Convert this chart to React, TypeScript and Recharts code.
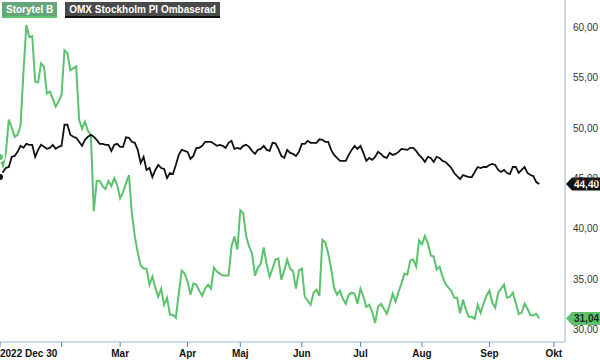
import React from "react";
import { LineChart, Line, XAxis, YAxis, ReferenceDot } from "recharts";

const storytel: number[] = [
  47.1, 46.2, 47.5, 50.8, 50.0, 49.1, 49.3, 50.2, 55.5, 60.2,
  59.0, 59.1, 54.6, 54.5, 56.4, 56.1, 53.4, 53.6, 52.9, 52.1,
  52.6, 53.3, 57.7, 57.4, 55.7, 55.9, 56.1, 50.8, 49.9, 50.6,
  49.7, 49.3, 41.7, 44.7, 44.7, 44.2, 43.9, 44.7, 44.2, 45.0,
  44.3, 43.0, 43.6, 44.5, 45.3, 41.5, 39.2, 37.6, 36.3, 36.0,
  36.0, 34.4, 35.2, 34.1, 33.2, 34.0, 32.4, 33.1, 31.4, 31.4,
  31.1, 33.5, 35.8, 35.5, 34.7, 33.4, 34.5, 34.4, 33.8, 33.3,
  34.0, 34.4, 34.0, 36.1, 35.7, 35.5, 35.3, 35.3, 35.3, 38.2,
  39.2, 37.9, 41.8, 41.5, 39.2, 38.2, 37.5, 35.3, 36.1, 36.5,
  38.1, 36.4, 35.2, 36.0, 36.9, 37.0, 34.9, 35.8, 36.9, 36.0,
  35.7, 34.0, 35.8, 36.0, 33.2, 32.8, 32.4, 33.6, 33.9, 33.3,
  38.85, 38.6, 37.5, 36.0, 34.1, 33.4, 33.8, 33.0, 32.5, 33.4,
  33.6, 33.5, 32.5, 34.0, 33.2, 32.2, 32.4, 31.7, 30.6, 32.2,
  32.5, 32.0, 31.5, 32.4, 33.5, 32.7, 33.7, 34.5, 35.5, 35.4,
  36.8, 36.9, 36.2, 38.8, 38.4, 39.25, 38.5, 37.3, 37.2, 35.9,
  36.2, 35.2, 34.5, 34.1, 33.8, 33.1, 33.1, 31.55, 32.9, 31.9,
  31.2, 31.2, 31.0, 32.4, 31.6, 32.5, 33.3, 33.8, 32.6, 32.1,
  33.6, 34.0, 34.4, 33.1, 33.2, 33.6, 32.6, 31.5, 31.6, 32.5,
  32.0, 31.35, 31.35, 31.5, 31.04,
];

const omx: number[] = [
  45.1, 45.6, 46.0, 46.1, 47.1, 47.2, 47.6, 48.2, 48.0, 48.4,
  48.3, 48.3, 47.1, 47.8, 48.3, 48.1, 47.9, 48.0, 48.3, 47.9,
  48.1, 48.2, 50.3, 50.3, 49.3, 49.1, 49.0, 48.6, 48.2, 48.8,
  49.1, 49.3, 49.1, 48.8, 48.4, 48.4, 48.3, 48.3, 47.7, 48.3,
  48.4, 48.1, 48.1, 49.05, 49.0, 48.6, 48.5, 47.8, 46.5, 47.1,
  45.8, 46.0, 45.1, 45.8, 46.3, 46.0, 45.9, 45.0, 45.5, 45.4,
  46.3, 47.3, 47.8, 47.7, 47.6, 46.9, 47.2, 48.0, 48.0, 48.2,
  48.6, 48.6, 48.6, 48.4, 48.2, 48.3, 48.2, 48.0, 48.5, 48.7,
  47.9, 48.0, 47.9, 48.2, 48.3, 48.1, 47.7, 47.4, 47.8, 47.9,
  48.2, 47.8, 47.7, 48.5, 48.45, 47.9, 47.2, 47.0, 47.8, 47.5,
  47.4, 47.2, 47.6, 48.4, 48.4, 48.7, 48.5, 48.5, 48.5, 48.85,
  48.8, 48.6, 48.6, 47.8, 47.3, 47.0, 46.7, 46.7, 46.7, 47.3,
  47.8, 48.2, 47.9, 48.2, 47.5, 46.7, 47.0, 46.8, 47.1, 47.6,
  47.4, 47.1, 47.0, 47.5, 47.3, 47.4, 47.6, 47.9, 47.85, 47.8,
  48.0, 48.0, 47.7, 47.3, 47.0, 46.6, 47.1, 47.0, 46.6, 47.1,
  47.0, 46.7, 46.6, 46.3, 46.0, 45.5, 45.2, 44.9, 45.3, 45.2,
  45.1, 45.1, 45.6, 46.1, 46.0, 46.1, 46.1, 46.3, 46.4, 46.3,
  45.8, 45.6, 45.8, 45.5, 45.4, 46.1, 46.1, 45.5, 45.8, 46.1,
  45.5, 45.3, 45.2, 44.6, 44.4,
];

const monthTicks: number[] = [0, 21, 41, 64, 82, 103, 123, 144, 167, 189];
const monthLabels: string[] = ["2022 Dec 30", "", "Mar", "Apr", "Maj", "Jun", "Jul", "Aug", "Sep", "Okt"];
const yTicks: number[] = [30, 35, 40, 45, 50, 55, 60];
const X_MAX = 192.8;
const Y_DOMAIN: [number, number] = [28.7, 62.7];

const data = storytel.map((v, i) => ({ i, storytel: v, omx: omx[i] }));

const FONT = "Arial, 'Liberation Sans', sans-serif";
const GREEN = "#5bc26d";
const AXIS = "#9db5c9";

const fmt = (v: number) => v.toFixed(2).replace(".", ",");

const XTick = (props: any) => {
  const { x, y, payload } = props;
  const idx = monthTicks.indexOf(payload.value);
  const label = monthLabels[idx] ?? "";
  const first = idx === 0;
  return (
    <text
      x={x}
      y={y + 8}
      textAnchor={first ? "start" : "middle"}
      fontFamily={FONT}
      fontSize={10}
      fontWeight="bold"
      fill="#111"
    >
      {label}
    </text>
  );
};

const YTick = (props: any) => {
  const { x, y, payload } = props;
  return (
    <text x={x + 8} y={y + 4} textAnchor="start" fontFamily={FONT} fontSize={10} fill="#333">
      {fmt(payload.value)}
    </text>
  );
};

const makeTag = (bg: string, fg: string, value: number) => (props: any) => {
  const { cx, cy } = props;
  const h = 13;
  const x0 = cx + 1;
  const pts = `${x0},${cy} ${x0 + 6},${cy - h / 2} ${x0 + 35},${cy - h / 2} ${x0 + 35},${cy + h / 2} ${x0 + 6},${cy + h / 2}`;
  return (
    <g>
      <polygon points={pts} fill={bg} />
      <text x={x0 + 8} y={cy + 4} fontFamily={FONT} fontSize={10} fontWeight="bold" fill={fg}>
        {fmt(value)}
      </text>
    </g>
  );
};

export default function App() {
  const lastS = storytel[storytel.length - 1];
  const lastO = omx[omx.length - 1];
  return (
    <div style={{ position: "absolute", left: 0, top: 0, width: 600, height: 361, background: "#fff" }}>
      <LineChart width={600} height={361} data={data} margin={{ top: 0, right: 0, bottom: 0, left: 0 }}>
        <XAxis
          dataKey="i"
          type="number"
          domain={[0, X_MAX]}
          ticks={monthTicks}
          interval={0}
          height={19}
          stroke={AXIS}
          tickLine={{ stroke: "#4f86b8" }}
          tickSize={5}
          tick={<XTick />}
          allowDataOverflow
        />
        <YAxis
          orientation="right"
          domain={Y_DOMAIN}
          ticks={yTicks}
          interval={0}
          width={35}
          stroke={AXIS}
          tickLine={false}
          tickSize={0}
          tickMargin={0}
          tick={<YTick />}
          allowDataOverflow
        />
        <Line type="linear" dataKey="storytel" stroke={GREEN} strokeWidth={2} dot={false} isAnimationActive={false} />
        <Line type="linear" dataKey="omx" stroke="#111" strokeWidth={1.8} dot={false} isAnimationActive={false} />
        <ReferenceDot x={X_MAX} y={lastO} r={0} ifOverflow="visible" shape={makeTag("#111", "#fff", lastO)} />
        <ReferenceDot x={X_MAX} y={lastS} r={0} ifOverflow="visible" shape={makeTag(GREEN, "#1b2b1b", lastS)} />
      </LineChart>
      <div style={{ position: "absolute", left: 2, top: 2, display: "flex", gap: 8, fontFamily: FONT, fontSize: 10, fontWeight: "bold", color: "#fff" }}>
        <div style={{ background: "#66a57a", borderBottom: `2px solid ${GREEN}`, padding: "1px 4px 0px 4px", lineHeight: "13px" }}>Storytel B</div>
        <div style={{ background: "#4a4a4a", borderBottom: "2px solid #111", padding: "1px 4px 0px 4px", lineHeight: "13px" }}>OMX Stockholm PI Ombaserad</div>
      </div>
    </div>
  );
}
